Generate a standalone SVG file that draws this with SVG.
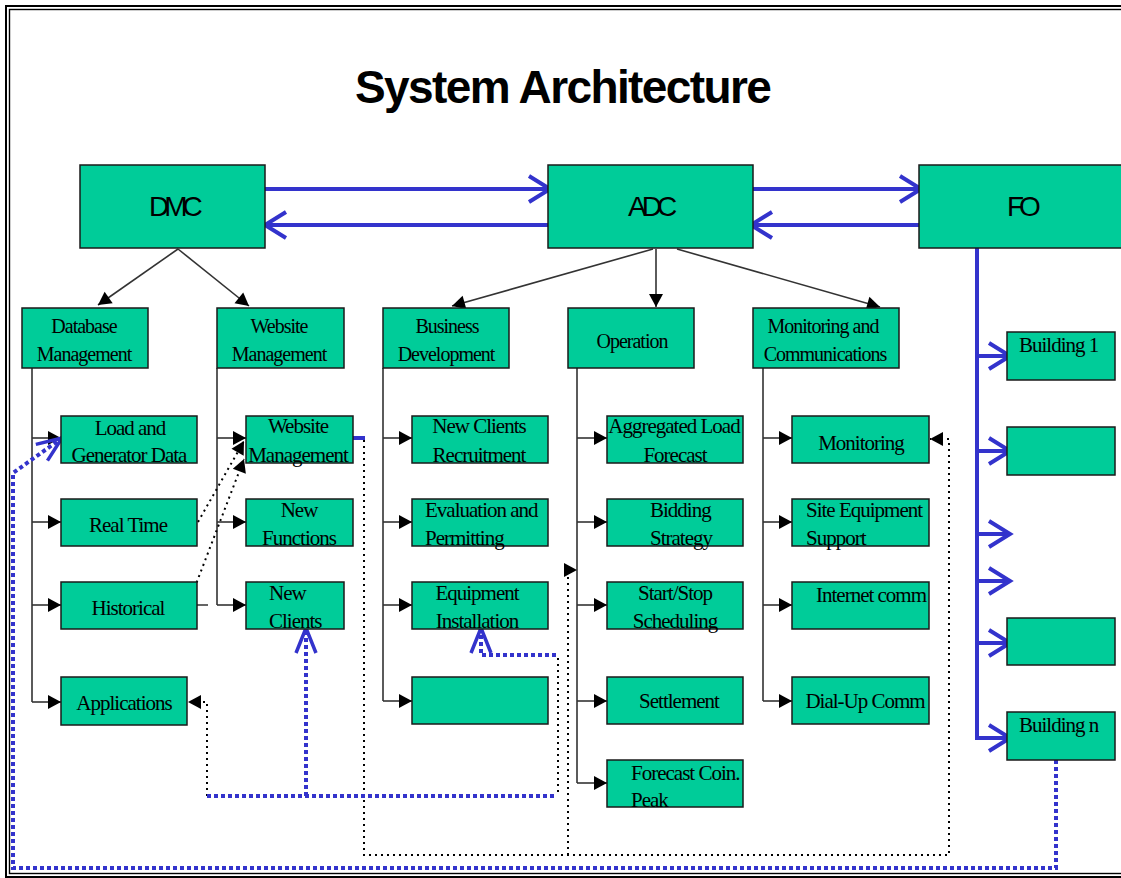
<svg xmlns="http://www.w3.org/2000/svg" width="1121" height="878" viewBox="0 0 1121 878">
<style>
.box{fill:#00CC99;stroke:#1a1a1a;stroke-width:1.5}
.t{font-family:"Liberation Serif","Times New Roman",serif;font-size:21px;letter-spacing:-1px;fill:#000}
.t2{font-family:"Liberation Serif","Times New Roman",serif;font-size:20px;letter-spacing:-1px;fill:#000}
.s{font-family:"Liberation Sans",Arial,sans-serif;font-size:28px;letter-spacing:-5px;fill:#000}
.m{text-anchor:middle}
.c{fill:none;stroke:#333;stroke-width:1.6}
.d{fill:none;stroke:#000;stroke-width:2;stroke-dasharray:2 4}
.b{fill:none;stroke:#3333CC;stroke-width:4}
.bd{fill:none;stroke:#3333CC;stroke-width:4;stroke-dasharray:4 3}
</style>
<defs>
<marker id="tri" markerUnits="userSpaceOnUse" viewBox="-14 -8 15 16" markerWidth="15" markerHeight="16" refX="0" refY="0" orient="auto">
<path d="M-13,-7 L0,0 L-13,7 z" fill="#000"/>
</marker>
<marker id="chev" markerUnits="userSpaceOnUse" viewBox="-25 -17 30 34" markerWidth="30" markerHeight="34" refX="0" refY="0" orient="auto">
<path d="M-21,-13 L0,0 L-21,13" fill="none" stroke="#3333CC" stroke-width="4"/>
</marker>
<marker id="chev2" markerUnits="userSpaceOnUse" viewBox="-30 -14 35 28" markerWidth="35" markerHeight="28" refX="0" refY="0" orient="auto">
<path d="M-25,-10 L0,0 L-25,10" fill="none" stroke="#3333CC" stroke-width="3.5"/>
</marker>
</defs>
<rect width="1121" height="878" fill="#fff"/>
<g id="frame" fill="none" stroke="#000">
<rect x="6" y="6" width="1130" height="871" stroke-width="2"/>
<rect x="9.5" y="9.5" width="1125" height="864" stroke-width="1.4"/>
</g>
<text x="355" y="103" font-family="Liberation Sans,Arial,sans-serif" font-weight="bold" font-size="46" letter-spacing="-1.6">System Architecture</text>

<g id="connectors">
<path class="c" d="M178,249 L98,305" marker-end="url(#tri)"/>
<path class="c" d="M178,249 L249,306" marker-end="url(#tri)"/>
<path class="c" d="M653,249 L452,306" marker-end="url(#tri)"/>
<path class="c" d="M656,249 L656,307" marker-end="url(#tri)"/>
<path class="c" d="M677,249 L880,307" marker-end="url(#tri)"/>
<path class="c" d="M32,368 V702 M217,368 V605 M383,368 V701 M577,368 V783 M763,368 V701 M197,605 H208"/>
<path class="c" d="M32,438 H61" marker-end="url(#tri)"/>
<path class="c" d="M32,522 H61" marker-end="url(#tri)"/>
<path class="c" d="M32,605 H61" marker-end="url(#tri)"/>
<path class="c" d="M32,702 H61" marker-end="url(#tri)"/>
<path class="c" d="M217,438 H246" marker-end="url(#tri)"/>
<path class="c" d="M217,522 H246" marker-end="url(#tri)"/>
<path class="c" d="M217,605 H246" marker-end="url(#tri)"/>
<path class="c" d="M383,438 H412" marker-end="url(#tri)"/>
<path class="c" d="M383,522 H412" marker-end="url(#tri)"/>
<path class="c" d="M383,605 H412" marker-end="url(#tri)"/>
<path class="c" d="M383,701 H412" marker-end="url(#tri)"/>
<path class="c" d="M577,438 H607" marker-end="url(#tri)"/>
<path class="c" d="M577,522 H607" marker-end="url(#tri)"/>
<path class="c" d="M577,605 H607" marker-end="url(#tri)"/>
<path class="c" d="M577,701 H607" marker-end="url(#tri)"/>
<path class="c" d="M577,783 H607" marker-end="url(#tri)"/>
<path class="c" d="M763,438 H792" marker-end="url(#tri)"/>
<path class="c" d="M763,522 H792" marker-end="url(#tri)"/>
<path class="c" d="M763,605 H792" marker-end="url(#tri)"/>
<path class="c" d="M763,701 H792" marker-end="url(#tri)"/>

<path class="b" d="M265,189 H550" marker-end="url(#chev)"/>
<path class="b" d="M548,225 H265" marker-end="url(#chev)"/>
<path class="b" d="M753,189 H921" marker-end="url(#chev)"/>
<path class="b" d="M919,225 H751" marker-end="url(#chev)"/>
<path class="b" d="M977,248 V738 H1010" marker-end="url(#chev)"/>
<path class="b" d="M977,356 H1010" marker-end="url(#chev)"/>
<path class="b" d="M977,451 H1010" marker-end="url(#chev)"/>
<path class="b" d="M977,534 H1010" marker-end="url(#chev)"/>
<path class="b" d="M977,581 H1010" marker-end="url(#chev)"/>
<path class="b" d="M977,643 H1010" marker-end="url(#chev)"/>
<path class="b" d="M353,438 H365"/>

<path class="d" d="M198,522 L244,441" marker-end="url(#tri)"/>
<path class="d" d="M188,605 L244,459" marker-end="url(#tri)"/>
<path class="d" d="M364,440 V855 H949 V439 H930" marker-end="url(#tri)"/>
<path class="d" d="M568,855 V570 H577" marker-end="url(#tri)"/>
<path class="d" d="M207,796 V702 H188" marker-end="url(#tri)"/>
<path class="d" d="M558,792 V654"/>

<path class="bd" d="M207,796 H556"/>
<path class="bd" d="M306,796 V628" marker-end="url(#chev2)"/>
<path class="bd" d="M556,655 H481 V628" marker-end="url(#chev2)"/>
<path class="bd" d="M1056,760 V868 H13 V473 L62,438" marker-end="url(#chev2)"/>
</g>

<g id="dmc"><rect class="box" x="80" y="165" width="185" height="83"/><text class="s" x="149" y="216">DMC</text></g>
<g id="adc"><rect class="box" x="548" y="165" width="205" height="83"/><text class="s" x="628" y="216">ADC</text></g>
<g id="fo"><rect class="box" x="919" y="165" width="215" height="83"/><text class="s" x="1007" y="216">FO</text></g>

<g id="database-management"><rect class="box" x="22" y="308" width="126" height="60"/><text class="t2 m" x="84" y="333">Database</text><text class="t2 m" x="84" y="361">Management</text></g>
<g id="website-management"><rect class="box" x="217" y="308" width="127" height="60"/><text class="t2 m" x="279" y="333">Website</text><text class="t2 m" x="279" y="361">Management</text></g>
<g id="business-development"><rect class="box" x="383" y="308" width="126" height="60"/><text class="t2 m" x="447" y="333">Business</text><text class="t2 m" x="446" y="361">Development</text></g>
<g id="operation"><rect class="box" x="568" y="308" width="126" height="60"/><text class="t2 m" x="632" y="348">Operation</text></g>
<g id="monitoring-communications"><rect class="box" x="753" y="308" width="146" height="60"/><text class="t2 m" x="823" y="333">Monitoring and</text><text class="t2 m" x="825" y="361">Communications</text></g>

<g id="load-generator"><rect class="box" x="61" y="416" width="136" height="47"/><text class="t m" x="130" y="435">Load and</text><text class="t m" x="129" y="462">Generator Data</text></g>
<g id="real-time"><rect class="box" x="61" y="499" width="136" height="47"/><text class="t m" x="128" y="532">Real Time</text></g>
<g id="historical"><rect class="box" x="61" y="582" width="136" height="47"/><text class="t m" x="128" y="615">Historical</text></g>
<g id="applications"><rect class="box" x="61" y="677" width="126" height="48"/><text class="t m" x="124" y="710">Applications</text></g>

<g id="website-management-2"><rect class="box" x="246" y="416" width="107" height="47"/><text class="t m" x="298" y="433">Website</text><text class="t m" x="298" y="462">Management</text></g>
<g id="new-functions"><rect class="box" x="246" y="499" width="107" height="47"/><text class="t m" x="299" y="517">New</text><text class="t m" x="299" y="545">Functions</text></g>
<g id="new-clients"><rect class="box" x="246" y="582" width="98" height="47"/><text class="t" x="269" y="600">New</text><text class="t" x="269" y="628">Clients</text></g>

<g id="new-clients-recruitment"><rect class="box" x="412" y="416" width="136" height="47"/><text class="t m" x="479" y="433">New Clients</text><text class="t m" x="479" y="462">Recruitment</text></g>
<g id="evaluation-permitting"><rect class="box" x="412" y="499" width="136" height="47"/><text class="t" x="425" y="517">Evaluation and</text><text class="t" x="425" y="545">Permitting</text></g>
<g id="equipment-installation"><rect class="box" x="412" y="582" width="136" height="47"/><text class="t m" x="477" y="600">Equipment</text><text class="t m" x="477" y="628">Installation</text></g>
<g id="blank-bd"><rect class="box" x="412" y="677" width="136" height="47"/></g>

<g id="aggregated-load"><rect class="box" x="607" y="416" width="136" height="47"/><text class="t m" x="674" y="433">Aggregated Load</text><text class="t m" x="675" y="462">Forecast</text></g>
<g id="bidding-strategy"><rect class="box" x="607" y="499" width="136" height="47"/><text class="t" x="650" y="517">Bidding</text><text class="t" x="650" y="545">Strategy</text></g>
<g id="start-stop"><rect class="box" x="607" y="582" width="136" height="47"/><text class="t m" x="675" y="600">Start/Stop</text><text class="t m" x="675" y="628">Scheduling</text></g>
<g id="settlement"><rect class="box" x="607" y="677" width="136" height="47"/><text class="t m" x="679" y="708">Settlement</text></g>
<g id="forecast-coin-peak"><rect class="box" x="607" y="760" width="136" height="47"/><text class="t" x="631" y="780">Forecast Coin.</text><text class="t" x="631" y="807">Peak</text></g>

<g id="monitoring"><rect class="box" x="792" y="416" width="137" height="47"/><text class="t m" x="861" y="450">Monitoring</text></g>
<g id="site-equipment"><rect class="box" x="792" y="499" width="137" height="47"/><text class="t" x="806" y="517">Site Equipment</text><text class="t" x="806" y="545">Support</text></g>
<g id="internet-comm"><rect class="box" x="792" y="582" width="137" height="47"/><text class="t" x="816" y="602">Internet comm</text></g>
<g id="dial-up"><rect class="box" x="792" y="677" width="137" height="47"/><text class="t m" x="865" y="708">Dial-Up Comm</text></g>

<g id="building-1"><rect class="box" x="1007" y="332" width="108" height="48"/><text class="t" x="1019" y="352">Building 1</text></g>
<g id="building-2"><rect class="box" x="1007" y="427" width="108" height="48"/></g>
<g id="building-3"><rect class="box" x="1007" y="618" width="108" height="47"/></g>
<g id="building-n"><rect class="box" x="1007" y="712" width="108" height="48"/><text class="t" x="1019" y="732">Building n</text></g>
</svg>
